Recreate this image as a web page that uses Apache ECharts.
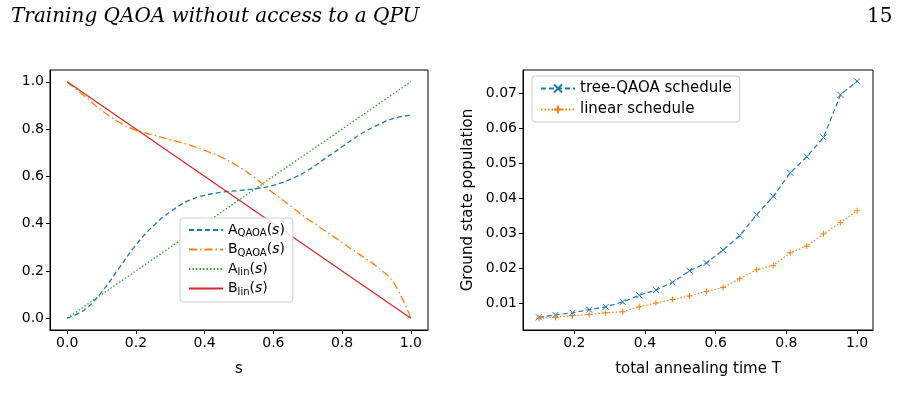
<!DOCTYPE html><html><head><meta charset="utf-8"><script src="https://cdn.jsdelivr.net/npm/echarts@6/dist/echarts.min.js"></script>
<style>body{margin:0;background:#fff}#c{width:898px;height:407px}</style></head><body><div id="c"></div><script>
const sVals=[0,0.05,0.1,0.15,0.2,0.25,0.3,0.35,0.4,0.45,0.5,0.55,0.6,0.65,0.7,0.75,0.8,0.85,0.9,0.95,1.0];
const aQaoa=[0,0.035,0.11,0.21,0.31,0.39,0.45,0.495,0.52,0.533,0.54,0.548,0.562,0.588,0.625,0.675,0.725,0.775,0.815,0.845,0.86];
const bQaoa=[1,0.94,0.88,0.83,0.795,0.775,0.755,0.735,0.71,0.68,0.64,0.59,0.53,0.475,0.42,0.37,0.32,0.27,0.22,0.15,0];
const linS=[0,1];
const aLin=[0,1];
const bLin=[1,0];
const T=[0.1,0.147,0.195,0.242,0.289,0.337,0.384,0.431,0.478,0.526,0.574,0.621,0.668,0.716,0.763,0.811,0.858,0.905,0.953,1.0];
const treeQ=[0.0061,0.0068,0.0074,0.0083,0.0091,0.0105,0.0124,0.0139,0.0161,0.0194,0.0216,0.0253,0.0294,0.0354,0.0406,0.0473,0.0519,0.0574,0.0695,0.0734];
const linSched=[0.0059,0.0061,0.0066,0.0069,0.0074,0.0077,0.0091,0.0102,0.0112,0.0122,0.0135,0.0146,0.0171,0.0197,0.0209,0.0245,0.0264,0.0299,0.0331,0.0365];
const leftTicks=[0,0.2,0.4,0.6,0.8,1.0];
const rightXTicks=[0.2,0.4,0.6,0.8,1.0];
const rightYTicks=[0.01,0.02,0.03,0.04,0.05,0.06,0.07];
const F='DejaVu Sans';
const zip=(a,b)=>a.map((v,i)=>[v,b[i]]);
const lab={fontFamily:F,fontSize:14,color:'#000'};
function ax(min,max,ticks,dec,name,gi,isY){
 return {type:'value',gridIndex:gi,min,max,name,nameLocation:'middle',nameGap:isY?47:32,
 nameTextStyle:{fontFamily:F,fontSize:15,color:'#000'},
 splitLine:{show:false},axisLine:{show:true,onZero:false,lineStyle:{color:'#000',width:1}},
 axisTick:{show:true,length:4,lineStyle:{color:'#000'},customValues:ticks},
 axisLabel:Object.assign({customValues:ticks,formatter:v=>v.toFixed(dec),margin:6},lab)};
}
const X='path://M0,0L10,10M10,0L0,10';
const P='path://M5,0L5,10M0,5L10,5';
const ch=echarts.init(document.getElementById('c'));
const rich={sub:{fontFamily:F,fontSize:10,color:'#000',verticalAlign:'bottom',padding:[7,0,0,0]},it:{fontFamily:F,fontSize:14,fontStyle:'italic',color:'#000'},n:{fontFamily:F,fontSize:14,color:'#000'}};
ch.setOption({
 animation:false,
 title:[{text:'Training QAOA without access to a QPU',left:6,top:2,textStyle:{fontFamily:'DejaVu Serif',fontStyle:'italic',fontWeight:'normal',fontSize:20,color:'#000'}},
 {text:'15',left:862,top:2,textStyle:{fontFamily:'DejaVu Serif',fontWeight:'normal',fontSize:20,color:'#000'}}],
 grid:[{left:50,right:470,top:70,bottom:77,show:true,borderColor:'#000',borderWidth:1},
       {left:523,right:25,top:70,bottom:77,show:true,borderColor:'#000',borderWidth:1}],
 xAxis:[ax(-0.05,1.05,leftTicks,1,'s',0,false),ax(0.055,1.045,rightXTicks,1,'total annealing time T',1,false)],
 yAxis:[ax(-0.05,1.05,leftTicks,1,'',0,true),ax(0.0025,0.0766,rightYTicks,2,'Ground state population',1,true)],
 legend:[{left:180,top:218,orient:'vertical',itemGap:4,itemWidth:34,itemHeight:10,padding:[5,8],
  borderColor:'#ccc',borderWidth:1,borderRadius:3,backgroundColor:'rgba(255,255,255,0.85)',
  data:['A_QAOA','B_QAOA','A_lin','B_lin'],
  itemStyle:{opacity:0},
  formatter:n=>{const p=n.split('_');return '{n|'+p[0]+'}{sub|'+p[1]+'}{n|(}{it|s}{n|)}';},
  textStyle:{rich}},
  {left:532,top:76,orient:'vertical',itemGap:6,itemWidth:34,itemHeight:10,padding:[5,8],
  borderColor:'#ccc',borderWidth:1,borderRadius:3,
  data:['tree-QAOA schedule','linear schedule'],textStyle:{fontFamily:F,fontSize:15,color:'#000'}}],
 series:[
  {name:'A_QAOA',type:'line',smooth:0.4,data:zip(sVals,aQaoa),showSymbol:false,lineStyle:{color:'#1f77b4',width:1.3,type:[5,3]},itemStyle:{color:'#1f77b4'}},
  {name:'B_QAOA',type:'line',smooth:0.4,data:zip(sVals,bQaoa),showSymbol:false,lineStyle:{color:'#ff7f0e',width:1.3,type:[8,3,1.5,3]},itemStyle:{color:'#ff7f0e'}},
  {name:'A_lin',type:'line',data:zip(linS,aLin),showSymbol:false,lineStyle:{color:'#2ca02c',width:1.3,type:[1.5,2]},itemStyle:{color:'#2ca02c'}},
  {name:'B_lin',type:'line',data:zip(linS,bLin),showSymbol:false,lineStyle:{color:'#d62728',width:1.3},itemStyle:{color:'#d62728'}},
  {name:'tree-QAOA schedule',type:'line',xAxisIndex:1,yAxisIndex:1,data:zip(T,treeQ),symbol:X,symbolSize:6,
   lineStyle:{color:'#1f77b4',width:1.2,type:[5,3]},itemStyle:{color:'none',borderColor:'#1f77b4',borderWidth:1}},
  {name:'linear schedule',type:'line',xAxisIndex:1,yAxisIndex:1,data:zip(T,linSched),symbol:P,symbolSize:6,
   lineStyle:{color:'#ff7f0e',width:1.2,type:[1.5,2]},itemStyle:{color:'none',borderColor:'#ff7f0e',borderWidth:1}}
 ]
});
</script></body></html>
